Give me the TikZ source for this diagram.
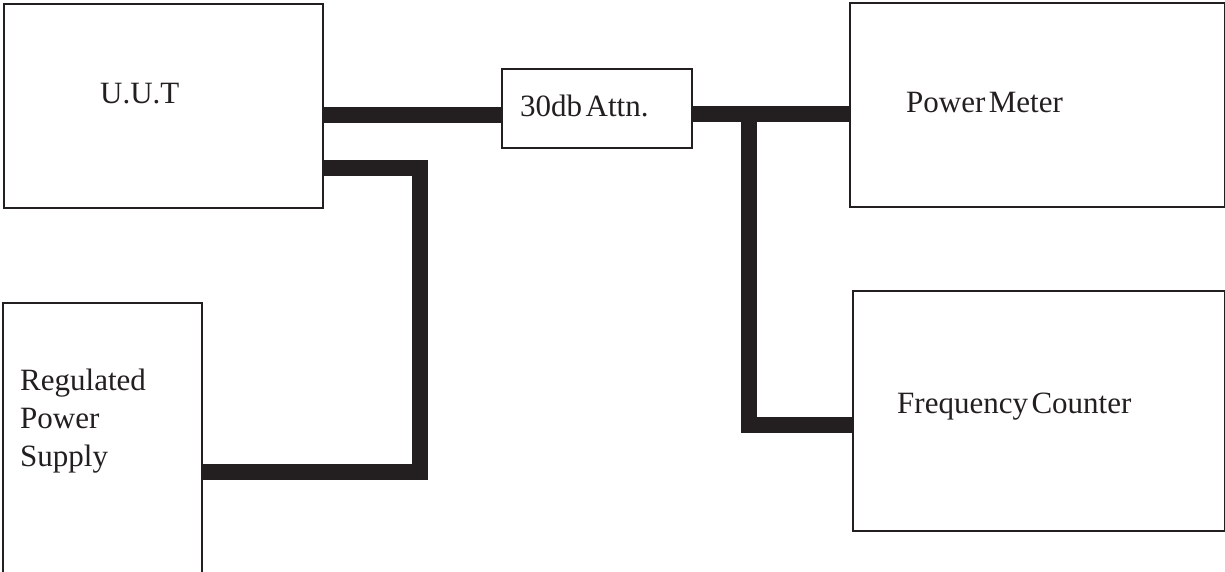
\documentclass[tikz,border=0pt]{standalone}
\usepackage{fontspec}
\setmainfont{Liberation Serif}[WordSpace=0.45]
\definecolor{ink}{HTML}{231F20}
\begin{document}
\begin{tikzpicture}[x=1pt,y=-1pt,
  box/.style={draw=ink,line width=2pt,inner sep=0pt,anchor=north west},
  lbl/.style={inner sep=0pt,text=ink,font=\fontsize{31}{38}\selectfont},
  wire/.style={draw=ink,line width=16pt,line cap=butt,line join=miter}]
\useasboundingbox[fill=white] (0,0) rectangle (1225,571);
% boxes
\node[box,minimum width=319pt,minimum height=204pt] (uut) at (3,3) {};
\node[box,minimum width=190pt,minimum height=79pt] (attn) at (501,68) {};
\node[box,minimum width=375pt,minimum height=204pt] (pm) at (849,2) {};
\node[box,minimum width=372pt,minimum height=240pt] (fc) at (852,290) {};
\node[inner sep=0pt,anchor=north west,minimum width=199pt,minimum height=270pt] (rps) at (3,303) {};
\draw[ink,line width=2pt] (rps.south west) -- (rps.north west) -- (rps.north east) -- (rps.south east);
% labels
\node[lbl,anchor=base west] (tuut) at (100,103) {U.U.T};
\node[lbl,anchor=base west] (tattn) at (520,116) {30db Attn.};
\node[lbl,anchor=base west] (tpm) at (906,112) {Power Meter};
\node[lbl,anchor=base west] (tfc) at (897,413) {Frequency Counter};
\node[lbl,anchor=north west,align=left] (trps) at (20,369) {Regulated\\Power\\Supply};
% junction coordinates
\coordinate (sig) at (0,114.5);
\coordinate (pwr) at (420,168);
\coordinate (tee) at (749,114);
\coordinate (fcl) at (0,425);
\coordinate (rpl) at (0,472);
% connectors
\draw[wire] (uut.east |- sig) -- (attn.west |- sig);
\draw[wire] (attn.east |- tee) -- (pm.west |- tee);
\draw[wire] (uut.east |- pwr) -| (pwr |- rpl) -- (rps.east |- rpl);
\draw[wire] (tee) -- (tee |- fcl) -- (fc.west |- fcl);
\end{tikzpicture}
\end{document}
